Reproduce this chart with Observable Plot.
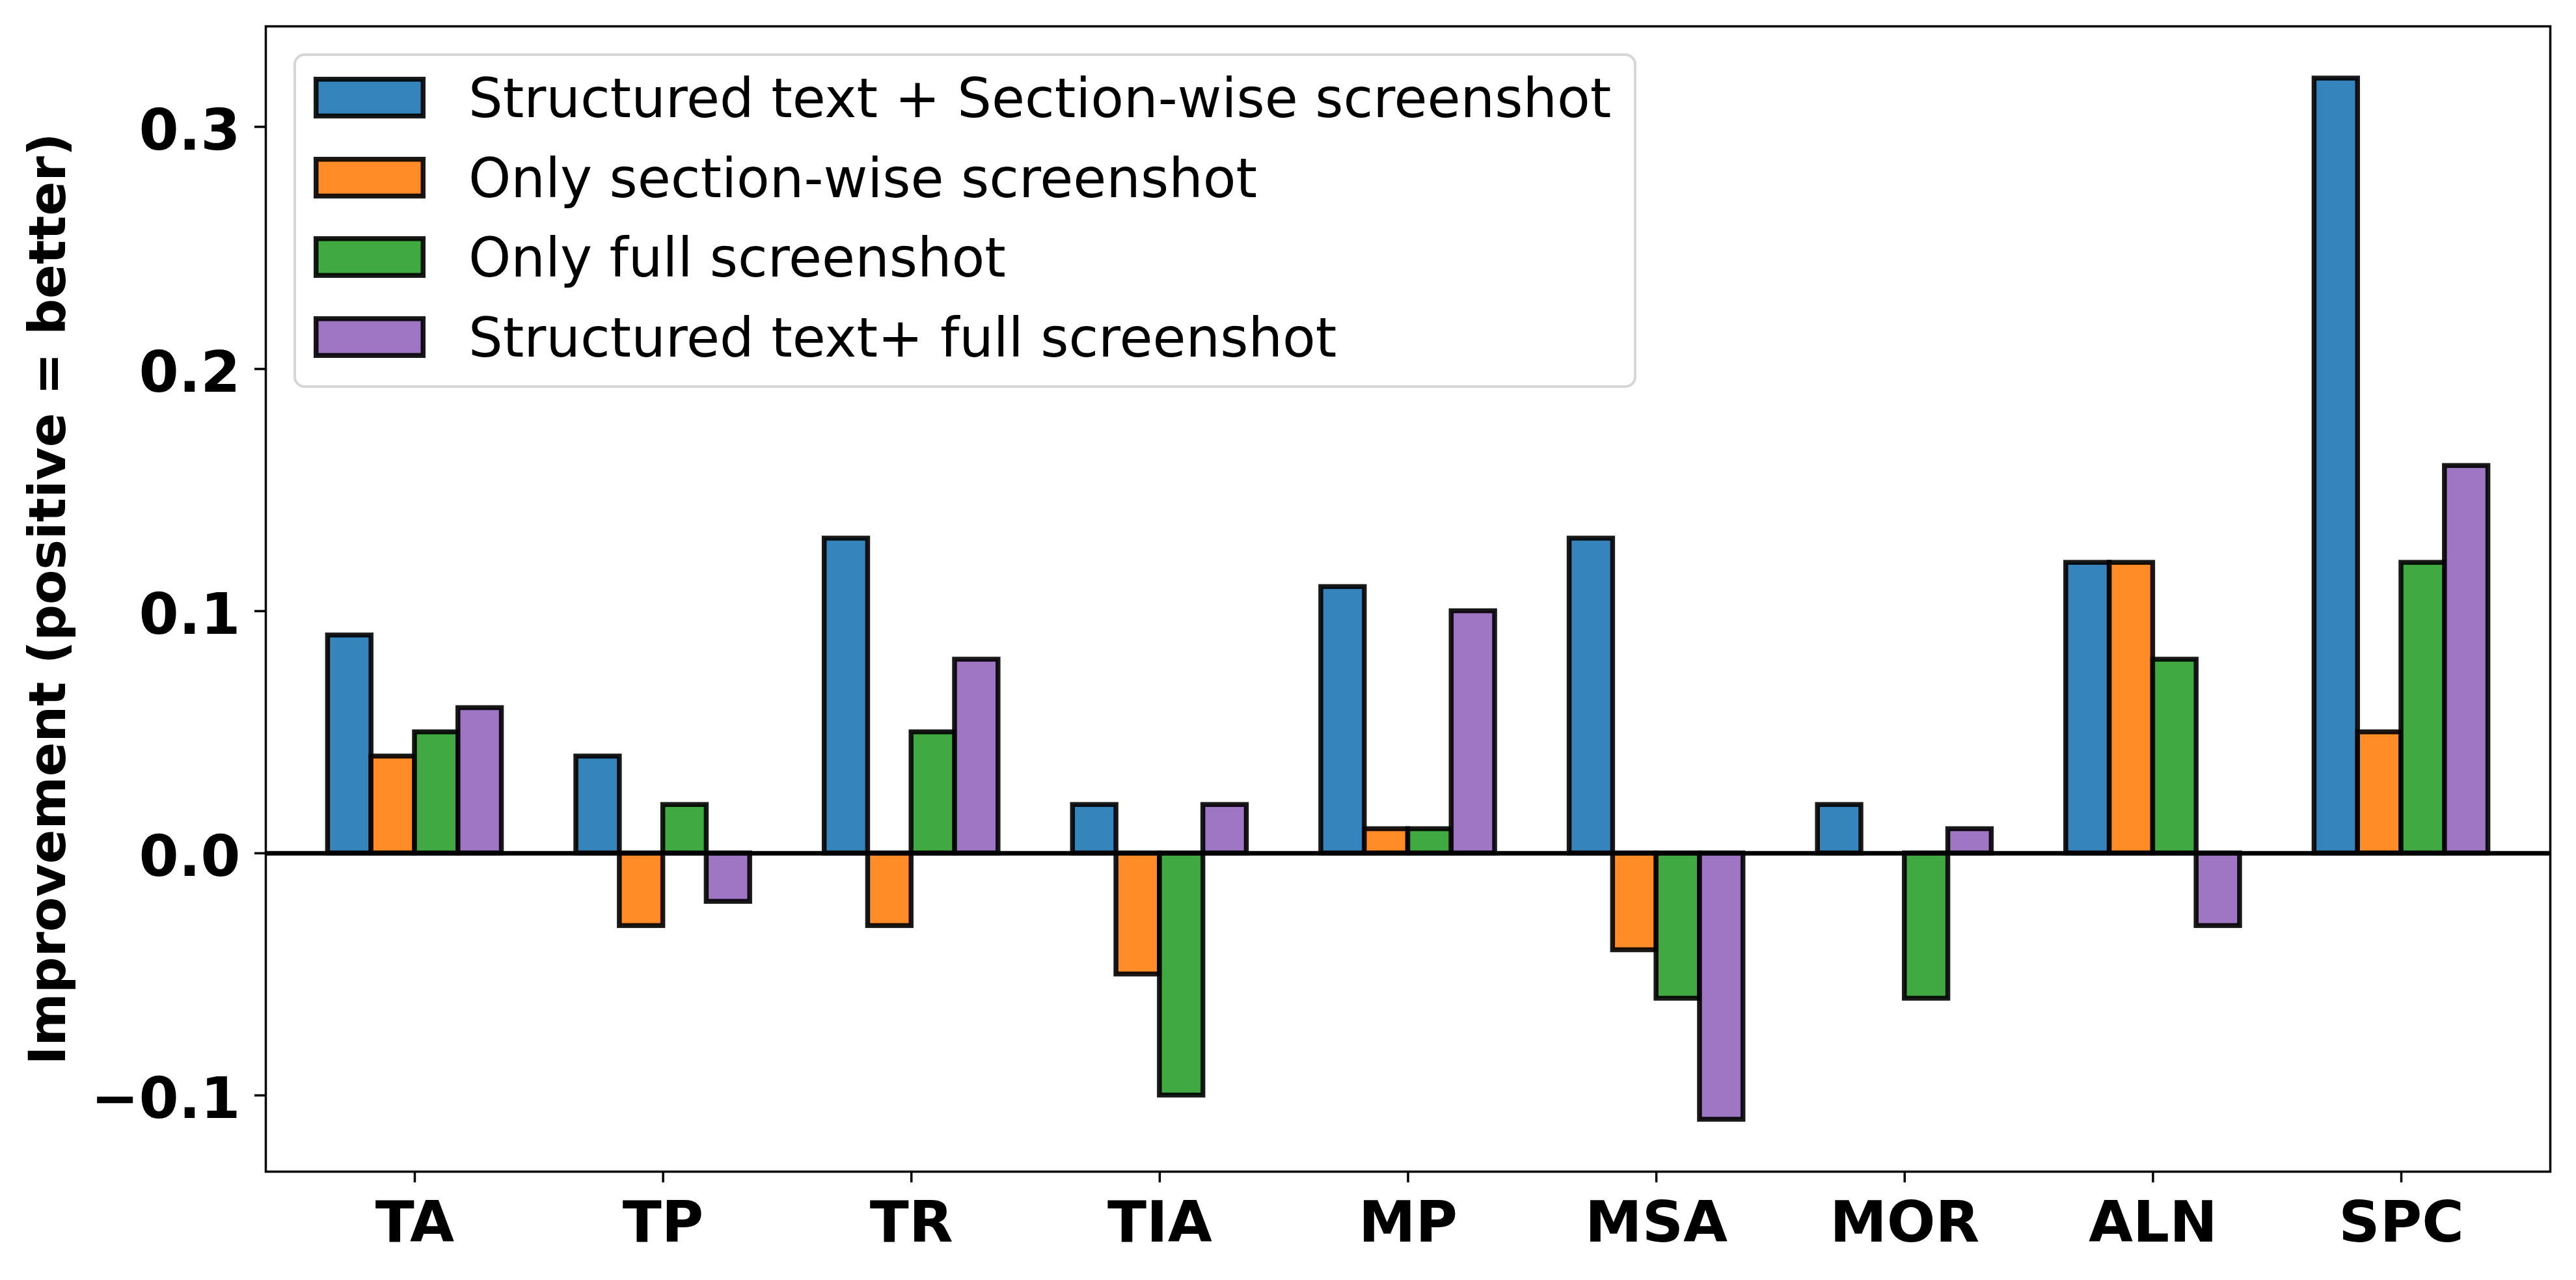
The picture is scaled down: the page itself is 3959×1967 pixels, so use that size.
<!DOCTYPE html>
<html>
<head>
<meta charset="utf-8">
<script src="https://cdn.jsdelivr.net/npm/d3@7"></script>
<script src="https://cdn.jsdelivr.net/npm/@observablehq/plot@0.6"></script>
<style>
  html, body { margin: 0; padding: 0; background: white; }
  #wrap { position: relative; width: 3959px; height: 1967px; }
  #legend {
    position: absolute; left: 451px; top: 82px; width: 2064px; height: 514px;
    box-sizing: border-box; border: 4px solid #d6d6d6; border-radius: 17px;
    background: rgba(255,255,255,0.8);
    font-family: "DejaVu Sans"; font-size: 83px; color: black;
  }
  .row { position: absolute; left: 27px; height: 64px; display: flex; align-items: center; }
  .row svg { display: block; }
  .row span { margin-left: 66px; line-height: 64px; position: relative; top: 2px; white-space: nowrap; }
</style>
</head>
<body>
<div id="wrap"></div>
<script>
const categories = ["TA", "TP", "TR", "TIA", "MP", "MSA", "MOR", "ALN", "SPC"];
const series = [
  "Structured text + Section-wise screenshot",
  "Only section-wise screenshot",
  "Only full screenshot",
  "Structured text+ full screenshot"
];
const colors = ["#1f77b4", "#ff7f0e", "#2ca02c", "#9467bd"];
const structSection = [0.09, 0.04, 0.13, 0.02, 0.11, 0.13, 0.02, 0.12, 0.32];
const onlySection   = [0.04, -0.03, -0.03, -0.05, 0.01, -0.04, 0.00, 0.12, 0.05];
const onlyFull      = [0.05, 0.02, 0.05, -0.10, 0.01, -0.06, -0.06, 0.08, 0.12];
const structFull    = [0.06, -0.02, 0.08, 0.02, 0.10, -0.11, 0.01, -0.03, 0.16];
const yTicks = [-0.1, 0.0, 0.1, 0.2, 0.3];
const yLabel = "Improvement (positive = better)";
const barWidth = 0.175;

const valueSets = [structSection, onlySection, onlyFull, structFull];
const rows = [];
categories.forEach((c, i) => {
  series.forEach((s, j) => rows.push({
    cat: c, series: s, value: valueSets[j][i],
    x1: i + (j - 2) * barWidth, x2: i + (j - 1) * barWidth
  }));
});

const fmt = d3.format(".1f");

const chart = Plot.plot({
  width: 3959,
  height: 1967,
  marginLeft: 408,
  marginRight: 40,
  marginTop: 40,
  marginBottom: 167,
  style: {fontFamily: "DejaVu Sans", background: "white", color: "black"},
  x: {domain: [-0.6, categories.length - 0.4]},
  y: {domain: [-0.1315, 0.3415]},
  color: {domain: series, range: colors},
  marks: [
    Plot.rect(rows, {
      x1: "x1", x2: "x2", y1: () => 0, y2: "value",
      fill: "series", fillOpacity: 0.9,
      stroke: "black", strokeOpacity: 0.9, strokeWidth: 7.5
    }),
    Plot.ruleY([0], {stroke: "black", strokeWidth: 7}),
    Plot.frame({stroke: "black", strokeWidth: 3.5}),
    Plot.axisY({ticks: yTicks, tickSize: 17, strokeWidth: 3.5, tickFormat: () => "", label: null}),
    Plot.axisY({ticks: yTicks, tickSize: 0, tickPadding: 39, dy: 7, tickFormat: fmt,
      fontSize: 88, fontWeight: "bold", label: null}),
    Plot.axisY({ticks: [], tickSize: 0, label: yLabel, labelAnchor: "center", labelArrow: "none",
      labelOffset: 364, fontSize: 78, fontWeight: "bold"}),
    Plot.axisX({ticks: d3.range(categories.length), tickFormat: i => categories[i],
      tickSize: 17, strokeWidth: 3.5, tickPadding: 28, fontSize: 88, fontWeight: "bold", label: null})
  ]
});

const wrap = document.getElementById("wrap");
wrap.appendChild(chart);

// legend
const legend = d3.select(wrap).append("div").attr("id", "legend");
series.forEach((s, j) => {
  const row = legend.append("div").attr("class", "row").style("top", (32 + j * 122.5) + "px");
  const sv = row.append("svg").attr("width", 172).attr("height", 64);
  sv.append("rect")
    .attr("x", 3.75).attr("y", 3.75).attr("width", 164.5).attr("height", 56.5)
    .attr("fill", colors[j]).attr("fill-opacity", 0.9)
    .attr("stroke", "black").attr("stroke-opacity", 0.9).attr("stroke-width", 7.5);
  row.append("span").text(s);
});
</script>
</body>
</html>
